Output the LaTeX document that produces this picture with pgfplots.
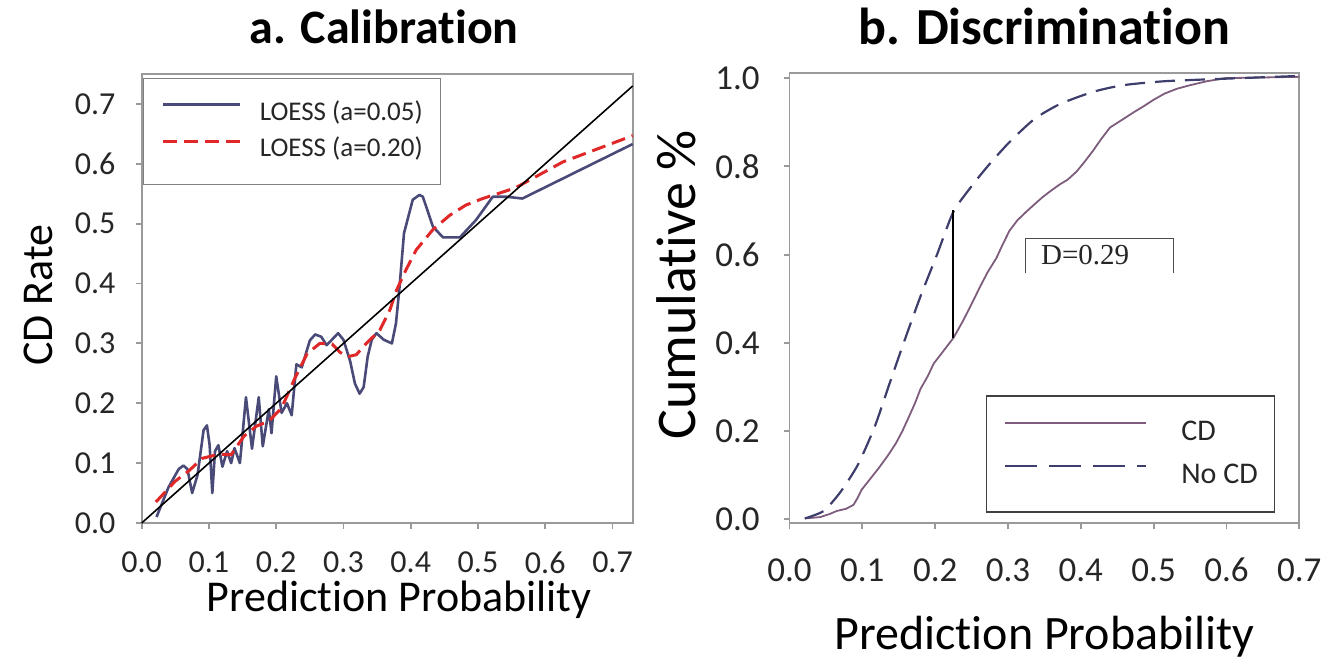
\documentclass[border=0pt]{standalone}
\usepackage{fontspec}
\setmainfont{Carlito}[Ligatures=NoCommon]
\newfontfamily\timesfont{Liberation Serif}
\usepackage{pgfplots}
\pgfplotsset{compat=1.18}
\definecolor{navy}{HTML}{4A4A78}
\definecolor{lred}{HTML}{E02828}
\definecolor{mauve}{HTML}{7E5C7C}
\definecolor{nocd}{HTML}{3E3E6C}
\definecolor{axgray}{HTML}{9A9A9A}

\pgfplotsset{
  common/.style={
    scale only axis,
    anchor=south west,
    axis line style={axgray, line width=0.9pt},
    tick align=outside, xtick pos=bottom, ytick pos=left,
    major tick length=3pt,
    tick style={axgray, line width=0.9pt},
    /pgf/number format/assume math mode=true,
    /pgf/number format/fixed, /pgf/number format/fixed zerofill, /pgf/number format/precision=1,
    legend cell align=left,
    clip=false,
  }
}

\begin{document}
\begin{tikzpicture}
\useasboundingbox (0,0) rectangle (660.5pt,331pt);
% ---------------- a. Calibration ----------------
\begin{axis}[common,
  at={(70.85pt,69.5pt)}, width=245.5pt, height=224.5pt,
  xmin=0, xmax=0.73, ymin=0, ymax=0.75,
  xtick={0,0.1,0.2,0.3,0.4,0.5,0.6,0.7},
  ytick={0,0.1,0.2,0.3,0.4,0.5,0.6,0.7},
  ticklabel style={font=\fontsize{16}{19}\selectfont, text=black!85},
  xticklabel style={inner sep=0pt, anchor=north, yshift=-11.3pt},
  yticklabel style={inner sep=0pt, anchor=east, xshift=-10pt},
  title={\textbf{a. Calibration}},
  title style={font=\fontsize{24}{28}\selectfont, at={(axis description cs:0.5,1)}, anchor=base, yshift=9pt, xshift=-1.5pt},
  xlabel={Prediction Probability},
  xlabel style={font=\fontsize{22}{26}\selectfont, at={(axis description cs:0.5,0)}, anchor=base, yshift=-44.5pt, xshift=6pt},
  ylabel={CD Rate},
  ylabel style={font=\fontsize{22}{26}\selectfont, at={(axis description cs:-0.181,0.508)}, anchor=base},
  legend style={at={(axis description cs:0.003,0.991)}, anchor=north west,
    draw=black!50, line width=0.6pt, inner xsep=9pt, inner ysep=10.85pt,
    row sep=5.3pt, font=\fontsize{13.5}{16}\selectfont, text=black!85,
    nodes={inner sep=0pt, text height=10pt, text depth=3pt},
    /tikz/every odd column/.append style={column sep=9pt}},
  legend image code/.code={\draw[#1] (0pt,4.3pt) -- (38.5pt,4.3pt);},
]
\addplot[navy, line width=1.3pt, line join=round] coordinates {
(0.022,0.01)(0.04,0.06)(0.055,0.09)(0.062,0.096)(0.068,0.09)(0.075,0.05)
(0.083,0.08)(0.092,0.155)(0.097,0.163)(0.101,0.13)(0.105,0.05)(0.109,0.12)
(0.114,0.13)(0.12,0.094)(0.127,0.12)(0.133,0.1)(0.138,0.125)(0.146,0.1)
(0.155,0.21)(0.164,0.124)(0.174,0.21)(0.18,0.128)(0.189,0.19)(0.193,0.15)
(0.2,0.245)(0.208,0.184)(0.216,0.2)(0.223,0.18)(0.23,0.265)(0.238,0.26)
(0.25,0.305)(0.258,0.315)(0.267,0.311)(0.275,0.297)(0.292,0.317)(0.3,0.306)
(0.31,0.27)(0.317,0.233)(0.324,0.216)(0.33,0.227)(0.336,0.278)(0.342,0.306)
(0.349,0.317)(0.36,0.306)(0.372,0.3)(0.378,0.333)(0.383,0.39)(0.39,0.484)
(0.403,0.54)(0.413,0.548)(0.418,0.545)(0.433,0.495)(0.448,0.477)(0.473,0.477)
(0.497,0.506)(0.522,0.545)(0.542,0.545)(0.566,0.542)(0.73,0.633)
};
\addlegendentry{LOESS (a=0.05)}
\addplot[lred, line width=1.5pt, dash pattern=on 7pt off 3.5pt] coordinates {
(0.021,0.035)(0.05,0.07)(0.07,0.087)(0.09,0.108)(0.115,0.115)(0.133,0.114)
(0.152,0.145)(0.171,0.162)(0.189,0.17)(0.208,0.192)(0.227,0.24)(0.246,0.283)
(0.265,0.3)(0.283,0.299)(0.295,0.285)(0.307,0.278)(0.319,0.281)(0.334,0.3)
(0.354,0.322)(0.369,0.356)(0.379,0.389)(0.393,0.423)(0.408,0.456)(0.433,0.49)
(0.458,0.514)(0.482,0.531)(0.507,0.542)(0.532,0.551)(0.556,0.56)(0.626,0.603)
(0.73,0.647)
};
\addlegendentry{LOESS (a=0.20)}
\addplot[black, line width=0.8pt, forget plot] coordinates {(0,0)(0.73,0.73)};
\end{axis}
% ---------------- b. Discrimination ----------------
\begin{axis}[common,
  at={(394.75pt,69.35pt)}, width=254.9pt, height=225pt,
  xmin=0, xmax=0.7, ymin=-0.009, ymax=1.011,
  xtick={0,0.1,0.2,0.3,0.4,0.5,0.6,0.7},
  ytick={0,0.2,0.4,0.6,0.8,1.0},
  ticklabel style={font=\fontsize{17.5}{21}\selectfont, text=black!85},
  xticklabel style={inner sep=0pt, anchor=north, yshift=-14.3pt},
  yticklabel style={inner sep=0pt, anchor=east, xshift=-11.75pt},
  title={\textbf{b. Discrimination}},
  title style={font=\fontsize{26}{30}\selectfont, at={(axis description cs:0.5,1)}, anchor=base, yshift=8.5pt},
  xlabel={Prediction Probability},
  xlabel style={font=\fontsize{24}{28}\selectfont, at={(axis description cs:0.5,0)}, anchor=base, yshift=-63pt},
  ylabel={Cumulative \%},
  ylabel style={font=\fontsize{28}{32}\selectfont, at={(axis description cs:-0.185,0.53)}, anchor=base},
  legend style={at={(axis description cs:0.386,0.284)}, anchor=north west,
    draw=black!75, line width=0.6pt, inner xsep=8.5pt, inner ysep=11.1pt,
    row sep=7.75pt, font=\fontsize{15}{18}\selectfont, text=black!85,
    nodes={inner sep=0pt, text height=11pt, text depth=3pt},
    /tikz/every odd column/.append style={column sep=17pt}},
]
\addplot[mauve, line width=0.9pt, legend image code/.code={\draw[mauve, line width=0.9pt] (0pt,4.8pt) -- (70.6pt,4.8pt);}] coordinates {
(0.021,0.002)(0.042,0.005)(0.055,0.012)(0.065,0.019)(0.078,0.024)(0.088,0.033)
(0.094,0.05)(0.099,0.067)(0.11,0.09)(0.122,0.115)(0.134,0.142)(0.146,0.172)
(0.155,0.2)(0.163,0.229)(0.172,0.262)(0.18,0.296)(0.19,0.325)(0.198,0.353)
(0.212,0.383)(0.225,0.411)(0.238,0.449)(0.25,0.488)(0.261,0.525)(0.272,0.56)
(0.284,0.592)(0.293,0.624)(0.302,0.654)(0.313,0.678)(0.325,0.697)(0.337,0.715)
(0.348,0.731)(0.36,0.746)(0.371,0.759)(0.382,0.77)(0.394,0.788)(0.405,0.81)
(0.417,0.836)(0.428,0.862)(0.44,0.888)(0.458,0.907)(0.472,0.922)(0.486,0.936)
(0.5,0.951)(0.515,0.965)(0.532,0.976)(0.55,0.984)(0.573,0.993)(0.599,1.0)(0.7,1.003)
};
\addlegendentry{CD}
\addplot[nocd, line width=1.1pt, dash pattern=on 10pt off 5pt, smooth, tension=0.4, legend image code/.code={\draw[nocd, line width=1.1pt, dash pattern=on 16pt off 6pt] (0pt,4.8pt) -- (70.6pt,4.8pt);}] coordinates {
(0.021,0.002)(0.047,0.019)(0.07,0.062)(0.094,0.124)(0.117,0.21)(0.137,0.306)
(0.157,0.401)(0.18,0.506)(0.203,0.602)(0.225,0.697)(0.25,0.755)(0.273,0.802)
(0.302,0.855)(0.336,0.907)(0.371,0.941)(0.417,0.969)(0.458,0.984)(0.515,0.993)
(0.602,0.999)(0.7,1.005)
};
\addlegendentry{No CD}
\addplot[black, line width=0.9pt, forget plot] coordinates {(0.225,0.41)(0.225,0.70)};
\draw[black!70, line width=0.7pt] (axis cs:0.3237,0.5586) |- (axis cs:0.527,0.637) -- (axis cs:0.527,0.5586);
\node[anchor=base west, inner sep=0pt, font=\timesfont\fontsize{14.5}{16}\selectfont, text=black!85] at (axis cs:0.345,0.578) {D=0.29};
\end{axis}
\end{tikzpicture}
\end{document}
